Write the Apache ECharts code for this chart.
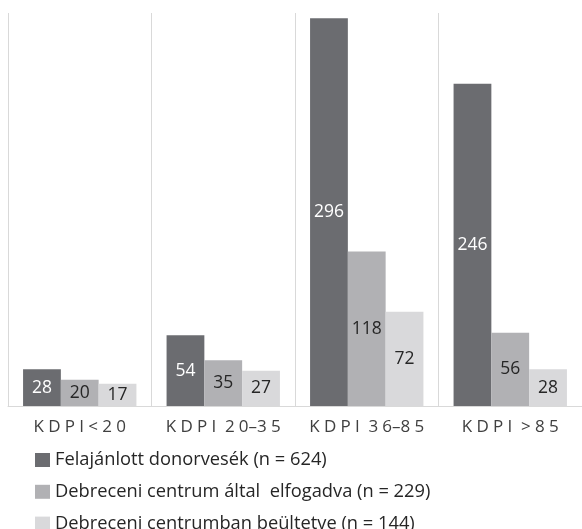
<!DOCTYPE html>
<html>
<head>
<meta charset="utf-8">
<style>
  html, body { margin: 0; padding: 0; background: #ffffff; }
  #chart { width: 582px; height: 529px; }
</style>
<script src="https://cdn.jsdelivr.net/npm/echarts@6/dist/echarts.min.js"></script>
</head>
<body>
<div id="chart"></div>
<script>
// KDPI categories and the kidney counts per group
const categories = ['KDPI<20', 'KDPI 20–35', 'KDPI 36–85', 'KDPI >85'];
const seriesNames = [
  'Felajánlott donorvesék (n = 624)',
  'Debreceni centrum által  elfogadva (n = 229)',
  'Debreceni centrumban beültetve (n = 144)'
];
const offered = [28, 54, 296, 246];
const accepted = [20, 35, 118, 56];
const transplanted = [17, 27, 72, 28];

const colors = ['#6b6c70', '#b1b1b4', '#d9d9db'];
const labelColors = ['#ffffff', '#262626', '#262626'];
const FONT = '"Open Sans", "Liberation Sans", sans-serif';

// spread the axis labels out letter by letter, with a wider gap between words;
// the range dash stays tight against its digits
const spaceWord = w => w.split('–').map(p => p.split('').join('\u2005')).join('–');
const spaced = s => s.split(' ').map(spaceWord).join('\u2005 ');

const chart = echarts.init(document.getElementById('chart'), null, { renderer: 'canvas' });

// one legend block per series, stacked below the axis
const legendRows = seriesNames.map((name, i) => ({
  orient: 'vertical',
  left: 35,
  top: 451 + i * 31.8,
  itemWidth: 15,
  itemHeight: 14,
  padding: 0,
  icon: 'rect',
  selectedMode: false,
  textStyle: { fontFamily: FONT, fontSize: 18.3, color: '#262626' },
  data: [name]
}));

const values = [offered, accepted, transplanted];
chart.setOption({
  animation: false,
  color: colors,
  grid: { left: 8, right: -4, top: 13, bottom: 123, containLabel: false },
  legend: legendRows,
  xAxis: {
    type: 'category',
    data: categories,
    boundaryGap: true,
    axisLine: { show: true, lineStyle: { color: '#d9d9d9', width: 1 } },
    axisTick: { show: false },
    splitLine: { show: true, interval: 0, lineStyle: { color: '#d9d9d9', width: 1 } },
    axisLabel: {
      interval: 0,
      hideOverlap: false,
      margin: 13,
      fontFamily: FONT,
      fontSize: 17,
      color: '#404040',
      formatter: v => spaced(v)
    }
  },
  yAxis: {
    type: 'value',
    min: 0,
    max: 300,
    show: false,
    splitLine: { show: false }
  },
  series: values.map((data, i) => ({
    name: seriesNames[i],
    type: 'bar',
    data: data,
    barGap: '0%',
    barCategoryGap: '21%',
    itemStyle: { color: colors[i] },
    label: {
      show: true,
      position: 'inside',
      fontFamily: FONT,
      fontSize: 17.5,
      color: labelColors[i]
    }
  }))
});
</script>
</body>
</html>
